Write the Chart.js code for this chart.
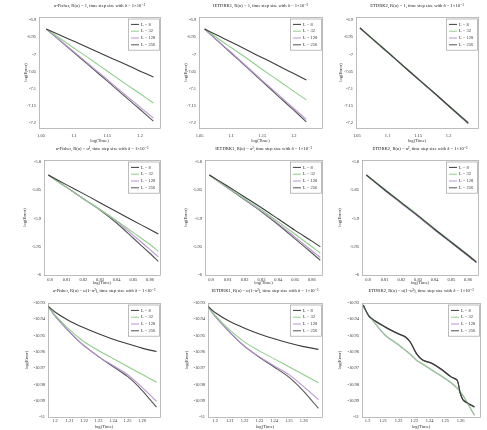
<!DOCTYPE html>
<html>
<head>
<meta charset="utf-8">
<script src="https://cdn.jsdelivr.net/npm/chart.js@4.4.0/dist/chart.umd.min.js"></script>
<style>
  body { margin: 0; background: #fff; width: 487px; height: 430px; overflow: hidden; }
  .panel { position: absolute; }
</style>
</head>
<body>
<script>
// legend entries and panel titles
const legendNames = ['L = 8', 'L = 32', 'L = 128', 'L = 256'];
const titles = [
  'u-Fisher, R(u) = 1, time step size with δ = 1×10⁻³',
  'IETDRK1, R(u) = 1, time step size with δ = 1×10⁻³',
  'ETDRK2, R(u) = 1, time step size with δ = 1×10⁻³',
  'u-Fisher, R(u) = u², time step size with δ = 1×10⁻³',
  'IETDRK1, R(u) = u², time step size with δ = 1×10⁻³',
  'ETDRK2, R(u) = u², time step size with δ = 1×10⁻³',
  'u-Fisher, R(u) = u(1−u²), time step size with δ = 1×10⁻³',
  'IETDRK1, R(u) = u(1−u²), time step size with δ = 1×10⁻³',
  'ETDRK2, R(u) = u(1−u²), time step size with δ = 1×10⁻³'
];

// tick values
const xTicksTop = [1.05, 1.1, 1.15, 1.2];
const xTicksMid = [0.8, 0.81, 0.82, 0.83, 0.84, 0.85, 0.86];
const xTicksBot = [1.2, 1.21, 1.22, 1.23, 1.24, 1.25, 1.26];
const yTicksTop = [-6.9, -6.95, -7, -7.05, -7.1, -7.15, -7.2];
const yTicksMid = [-5.8, -5.85, -5.9, -5.95, -6];
const yTicksBot = [-10.93, -10.94, -10.95, -10.96, -10.97, -10.98, -10.99, -11];

// log(Time) samples
const xTop = [1.058, 1.08, 1.1, 1.12, 1.14, 1.16, 1.18, 1.2, 1.22];
const xTopR = [1.055, 1.08, 1.1, 1.12, 1.14, 1.16, 1.18, 1.2, 1.232];
const xMid = [0.799, 0.81, 0.82, 0.83, 0.84, 0.85, 0.86, 0.865];
const xBot = [1.195, 1.2, 1.21, 1.22, 1.23, 1.24, 1.25, 1.26, 1.27];
const xBotR = [1.1972, 1.2012, 1.2113, 1.2194, 1.2244, 1.2275, 1.2315, 1.2356, 1.2416, 1.2477, 1.2538, 1.2578, 1.2598, 1.2618, 1.2689];

// log(Error) per panel, one row per legend entry
const p11 = [
  [-6.926, -6.945, -6.962, -6.979, -6.997, -7.014, -7.031, -7.049, -7.066],
  [-6.926, -6.955, -6.982, -7.008, -7.035, -7.062, -7.089, -7.115, -7.142],
  [-6.926, -6.961, -6.993, -7.025, -7.057, -7.090, -7.122, -7.154, -7.186],
  [-6.926, -6.962, -6.995, -7.028, -7.061, -7.094, -7.128, -7.161, -7.195]
];
const p12 = [
  [-6.926, -6.946, -6.964, -6.982, -7.001, -7.019, -7.038, -7.056, -7.075],
  [-6.926, -6.955, -6.980, -7.005, -7.031, -7.057, -7.082, -7.108, -7.133],
  [-6.926, -6.962, -6.994, -7.027, -7.060, -7.093, -7.125, -7.158, -7.190],
  [-6.926, -6.963, -6.996, -7.029, -7.063, -7.096, -7.130, -7.163, -7.197]
];
const p13 = [
  [-6.923, -6.962, -6.993, -7.025, -7.056, -7.087, -7.118, -7.150, -7.200],
  [-6.923, -6.961, -6.992, -7.024, -7.055, -7.087, -7.118, -7.149, -7.199],
  [-6.923, -6.962, -6.993, -7.024, -7.056, -7.088, -7.119, -7.150, -7.201],
  [-6.923, -6.963, -6.994, -7.025, -7.057, -7.088, -7.119, -7.151, -7.202]
];
const p21 = [
  [-5.823, -5.8405, -5.856, -5.872, -5.888, -5.904, -5.9195, -5.9275],
  [-5.823, -5.845, -5.865, -5.884, -5.904, -5.925, -5.946, -5.958],
  [-5.823, -5.845, -5.865, -5.884, -5.905, -5.930, -5.955, -5.968],
  [-5.823, -5.845, -5.865, -5.885, -5.908, -5.935, -5.962, -5.976]
];
const p22 = [
  [-5.823, -5.843, -5.862, -5.881, -5.901, -5.921, -5.940, -5.950],
  [-5.823, -5.845, -5.865, -5.885, -5.906, -5.928, -5.950, -5.961],
  [-5.823, -5.846, -5.866, -5.887, -5.909, -5.933, -5.957, -5.969],
  [-5.823, -5.846, -5.867, -5.888, -5.911, -5.936, -5.961, -5.974]
];
const p23 = [
  [-5.823, -5.849, -5.872, -5.895, -5.919, -5.942, -5.965, -5.977],
  [-5.823, -5.848, -5.871, -5.894, -5.918, -5.941, -5.964, -5.976],
  [-5.823, -5.849, -5.873, -5.896, -5.920, -5.943, -5.966, -5.978],
  [-5.823, -5.850, -5.873, -5.896, -5.920, -5.943, -5.966, -5.978]
];
const p31 = [
  [-10.9318, -10.9355, -10.9410, -10.9452, -10.9489, -10.9522, -10.9550, -10.9577, -10.9598],
  [-10.9318, -10.9373, -10.9464, -10.9538, -10.9592, -10.9641, -10.9690, -10.9738, -10.9787],
  [-10.9318, -10.9379, -10.9477, -10.9562, -10.9629, -10.9684, -10.9739, -10.9818, -10.9903],
  [-10.9318, -10.9379, -10.9477, -10.9562, -10.9629, -10.9690, -10.9751, -10.9836, -10.9940]
];
const p32 = [
  [-10.9318, -10.9358, -10.9414, -10.9455, -10.9490, -10.9520, -10.9546, -10.9568, -10.9585],
  [-10.9318, -10.9376, -10.9467, -10.9540, -10.9594, -10.9643, -10.9692, -10.9741, -10.9790],
  [-10.9318, -10.9381, -10.9480, -10.9565, -10.9631, -10.9686, -10.9740, -10.9813, -10.9893],
  [-10.9318, -10.9381, -10.9480, -10.9566, -10.9633, -10.9693, -10.9755, -10.9842, -10.9947]
];
const p33 = [
  [-10.9312, -10.9384, -10.9446, -10.9486, -10.9507, -10.9538, -10.9609, -10.9650, -10.9670, -10.9707, -10.9752, -10.9773, -10.9854, -10.9896, -10.9937],
  [-10.9323, -10.9380, -10.9496, -10.9552, -10.9589, -10.9613, -10.9650, -10.9675, -10.9711, -10.9748, -10.9788, -10.9822, -10.9846, -10.9871, -10.9988],
  [-10.9323, -10.9382, -10.9498, -10.9554, -10.9591, -10.9615, -10.9652, -10.9677, -10.9713, -10.9750, -10.9790, -10.9824, -10.9848, -10.9873, -10.9990],
  [-10.9312, -10.9386, -10.9449, -10.9489, -10.9510, -10.9541, -10.9612, -10.9652, -10.9673, -10.9710, -10.9755, -10.9776, -10.9857, -10.9899, -10.9940]
];

const colors = ['#3c3c3c', '#8fcf8a', '#b994d2', '#555555'];

Chart.defaults.font.family = '"Liberation Serif", "DejaVu Serif", serif';
Chart.defaults.color = '#333';

// box around the axes + legend in the upper right corner, MATLAB style
const framePlugin = {
  id: 'frame',
  afterDraw(chart) {
    const { ctx, chartArea: a } = chart;
    ctx.save();
    ctx.strokeStyle = '#a0a0a0';
    ctx.lineWidth = 0.7;
    ctx.strokeRect(a.left + 0.5, a.top + 0.5, a.right - a.left, a.bottom - a.top);
    const w = 31, rowH = 6.8, h = 4 * rowH + 4;
    const lx = a.right - w - 1, ly = a.top + 1.5;
    ctx.fillStyle = '#fff';
    ctx.fillRect(lx, ly, w, h);
    ctx.strokeRect(lx + 0.5, ly + 0.5, w, h);
    ctx.font = '4.5px "Liberation Serif", serif';
    ctx.textBaseline = 'middle';
    chart.data.datasets.forEach((ds, i) => {
      const y = ly + 2.5 + rowH * (i + 0.5);
      ctx.strokeStyle = ds.borderColor;
      ctx.lineWidth = 1;
      ctx.beginPath();
      ctx.moveTo(lx + 3, y);
      ctx.lineTo(lx + 11, y);
      ctx.stroke();
      ctx.fillStyle = '#333';
      ctx.fillText(ds.label, lx + 13, y);
    });
    ctx.restore();
  }
};

const cols = [{ left: 0, w: 162 }, { left: 161, w: 163 }, { left: 323, w: 164 }];
const rows = [
  { top: 0, h: 145, ft: 17, fb: 128, tt: 6, xt: 141, xpad: 5, xt0: xTicksTop, yt: yTicksTop, ymin: -7.215, ymax: -6.891 },
  { top: 142, h: 146, ft: 18, fb: 133, tt: 7, xt: 141, xpad: 2, xt0: xTicksMid, yt: yTicksMid, ymin: -6.0, ymax: -5.7965 },
  { top: 284, h: 146, ft: 19, fb: 133, tt: 7, xt: 144, xpad: 1, xt0: xTicksBot, yt: yTicksBot, ymin: -11.0, ymax: -10.93 }
];

const panels = [
  { r: 0, c: 0, x: xTop, s: p11, xmin: 1.047, xmax: 1.23, fl: 39, fr: 160, yl: 26 },
  { r: 0, c: 1, x: xTop, s: p12, xmin: 1.049, xmax: 1.245, fl: 38, fr: 161, yl: 25 },
  { r: 0, c: 2, x: xTopR, s: p13, xmin: 1.0485, xmax: 1.248, fl: 33, fr: 155, yl: 18 },
  { r: 1, c: 0, x: xMid, s: p21, xmin: 0.7964, xmax: 0.866, fl: 44, fr: 160, yl: 25 },
  { r: 1, c: 1, x: xMid, s: p22, xmin: 0.7964, xmax: 0.866, fl: 44, fr: 161, yl: 25 },
  { r: 1, c: 2, x: xMid, s: p23, xmin: 0.7964, xmax: 0.866, fl: 39, fr: 155, yl: 17 },
  { r: 2, c: 0, x: xBot, s: p31, xmin: 1.1952, xmax: 1.2724, fl: 48, fr: 160, yl: 27 },
  { r: 2, c: 1, x: xBot, s: p32, xmin: 1.1952, xmax: 1.2724, fl: 47, fr: 161, yl: 26 },
  { r: 2, c: 2, x: xBotR, s: p33, xmin: 1.1964, xmax: 1.2725, fl: 39, fr: 157, yl: 17 }
];

panels.forEach((p, k) => {
  const row = rows[p.r], col = cols[p.c];
  const div = document.createElement('div');
  div.className = 'panel';
  div.style.cssText = `left:${col.left}px;top:${row.top}px;width:${col.w}px;height:${row.h}px`;
  const canvas = document.createElement('canvas');
  div.appendChild(canvas);
  document.body.appendChild(div);

  const lh = 4.6 * 1.2;
  new Chart(canvas, {
    type: 'line',
    data: {
      datasets: p.s.map((vals, i) => ({
        label: legendNames[i],
        data: p.x.map((x, j) => ({ x: x, y: vals[j] })),
        borderColor: colors[i],
        borderWidth: 1.1,
        pointRadius: 0,
        tension: 0.25
      }))
    },
    options: {
      responsive: true,
      maintainAspectRatio: false,
      animation: false,
      events: [],
      layout: { padding: { left: 0, right: col.w - p.fr, top: 0, bottom: 0 } },
      plugins: {
        legend: { display: false },
        tooltip: { enabled: false },
        title: {
          display: true,
          fullSize: false,
          text: titles[k],
          color: '#222',
          font: { size: 4.6, weight: 'normal' },
          padding: { top: row.tt - lh / 2, bottom: row.ft - lh - (row.tt - lh / 2) }
        }
      },
      scales: {
        x: {
          type: 'linear',
          min: p.xmin,
          max: p.xmax,
          grid: { display: false, drawTicks: false },
          border: { display: false },
          afterBuildTicks: s => { s.ticks = row.xt0.map(v => ({ value: v })); },
          afterFit: s => { s.height = row.h - row.fb; },
          ticks: { font: { size: 4.5 }, padding: row.xpad, maxRotation: 0, autoSkip: false, callback: v => String(v) },
          title: { display: true, text: 'log(Time)', font: { size: 4.6 }, padding: { top: 0, bottom: Math.max(0, row.h - row.xt - lh / 2) } }
        },
        y: {
          type: 'linear',
          min: row.ymin,
          max: row.ymax,
          grid: { display: false, drawTicks: false },
          border: { display: false },
          afterBuildTicks: s => { s.ticks = row.yt.map(v => ({ value: v })); },
          afterFit: s => { s.width = p.fl; },
          ticks: { font: { size: 4.5 }, padding: 3, autoSkip: false, callback: v => String(v) },
          title: { display: true, text: 'log(Error)', font: { size: 4.6 }, padding: { top: p.yl - lh / 2, bottom: 0 } }
        }
      }
    },
    plugins: [framePlugin]
  });
});
</script>
</body>
</html>
